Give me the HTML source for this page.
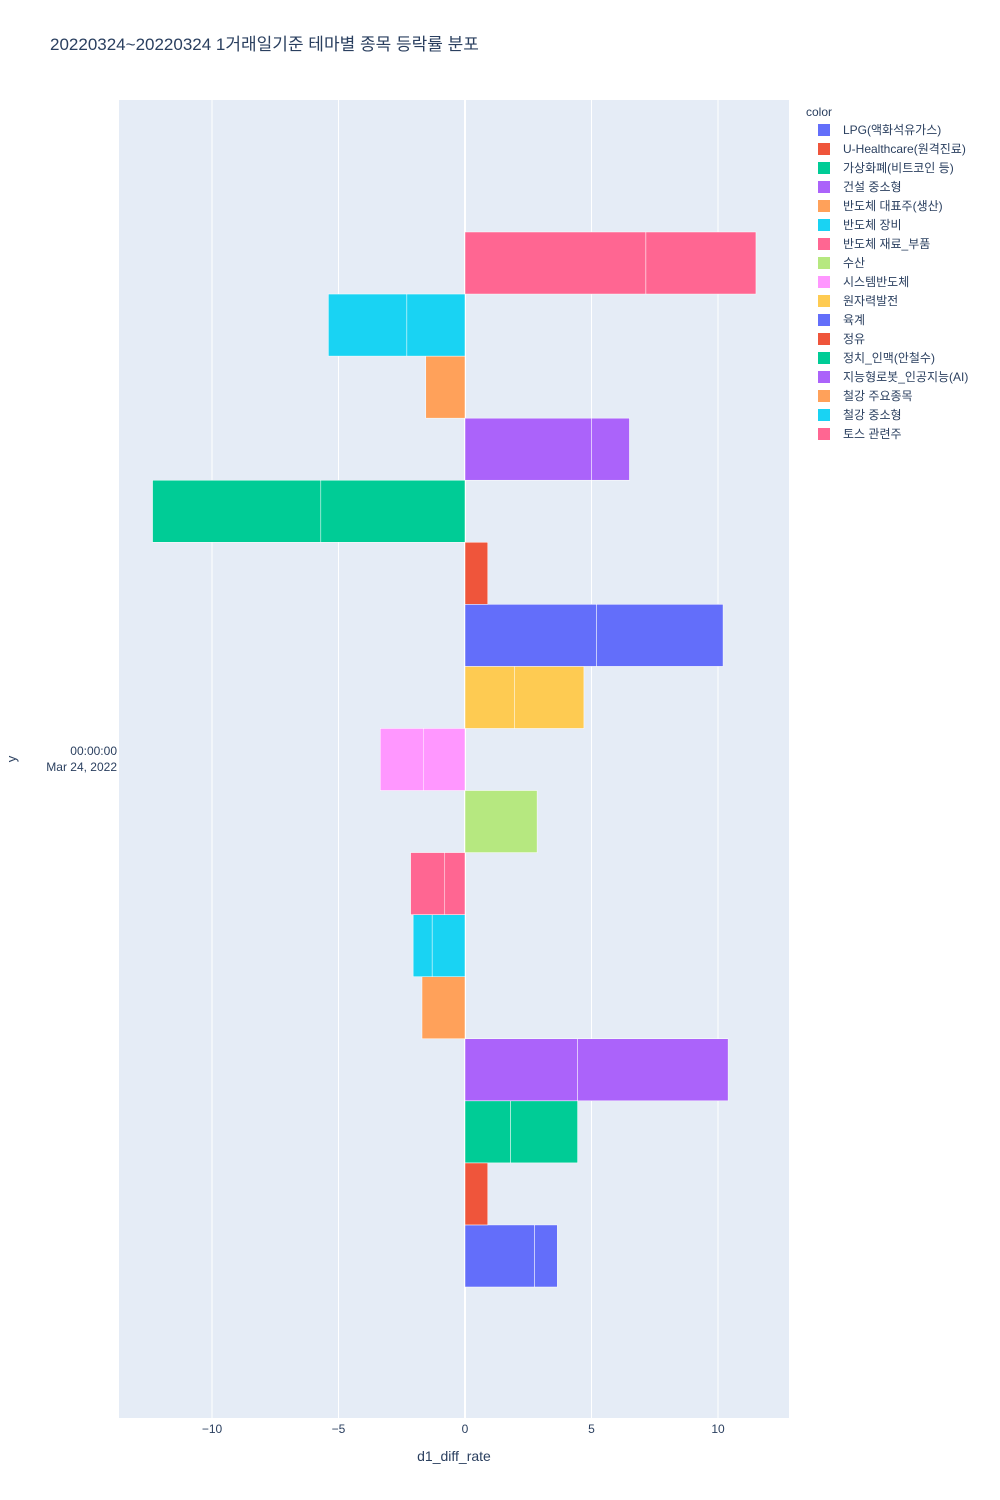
<!DOCTYPE html>
<html><head><meta charset="utf-8">
<style>
body{margin:0;background:#fff;}
svg{display:block;font-family:"Liberation Sans","Noto Sans CJK KR",sans-serif;}
</style></head>
<body>
<svg id="chart" width="1000" height="1500" viewBox="0 0 1000 1500">
<text x="50" y="50" font-size="17" fill="#2a3f5f">20220324~20220324 1거래일기준 테마별 종목 등락률 분포</text>
<rect x="119" y="100" width="670" height="1318" fill="#e5ecf6"/>
<g id="grid"></g>
<g id="bars"></g>
<g id="ticks"></g>
<text x="117" y="755" font-size="12" fill="#2a3f5f" text-anchor="end">00:00:00</text>
<text x="117" y="771" font-size="12" fill="#2a3f5f" text-anchor="end">Mar 24, 2022</text>
<text x="16" y="759" font-size="13" fill="#2a3f5f" text-anchor="middle" transform="rotate(-90 16 759)">y</text>
<text x="454" y="1461" font-size="14" fill="#2a3f5f" text-anchor="middle">d1_diff_rate</text>
<text x="806" y="116" font-size="12" fill="#2a3f5f">color</text>
<g id="legend"></g>
</svg>
<script>
const categories = ["LPG(액화석유가스)","U-Healthcare(원격진료)","가상화폐(비트코인 등)","건설 중소형","반도체 대표주(생산)","반도체 장비","반도체 재료_부품","수산","시스템반도체","원자력발전","육계","정유","정치_인맥(안철수)","지능형로봇_인공지능(AI)","철강 주요종목","철강 중소형","토스 관련주"];
const segmentA = [2.75,0.9,1.8,4.45,-1.7,-1.3,-0.8,2.85,-1.65,1.95,5.2,0.9,-5.7,5.0,-1.55,-2.3,7.15];
const segmentB = [0.9,0,2.65,5.95,0,-0.75,-1.35,0,-1.7,2.75,5.0,0,-6.65,1.5,0,-3.1,4.35];
const xTicks = [-10,-5,0,5,10];
const colors = ["#636efa","#EF553B","#00cc96","#ab63fa","#FFA15A","#19d3f3","#FF6692","#B6E880","#FF97FF","#FECB52"];

const NS="http://www.w3.org/2000/svg";
const X0=465, XS=25.3;
const xPos=v=>X0+v*XS;
const slotH=62.06, bottom=1287;
function mk(tag,attrs,parent){const e=document.createElementNS(NS,tag);for(const k in attrs)e.setAttribute(k,attrs[k]);parent.appendChild(e);return e;}
const grid=document.getElementById('grid'), bars=document.getElementById('bars'), ticks=document.getElementById('ticks'), legend=document.getElementById('legend');
xTicks.forEach(t=>{
  const l=mk('line',{x1:xPos(t),x2:xPos(t),y1:100,y2:1418,stroke:'#fff','stroke-width':t===0?2:1},grid);
  
  
  const tx=mk('text',{x:xPos(t),y:1433,'font-size':12,fill:'#2a3f5f','text-anchor':'middle'},ticks);
  tx.textContent=t<0?'\u2212'+Math.abs(t):String(t);
  
  
});
categories.forEach((c,i)=>{
  const col=colors[i%colors.length];
  const y=bottom-(i+1)*slotH;
  const segs=[[0,segmentA[i]],[segmentA[i],segmentA[i]+segmentB[i]]];
  segs.forEach(([a,b],j)=>{
    if(a===b)return;
    const x1=Math.min(xPos(a),xPos(b)), w=Math.abs(xPos(b)-xPos(a));
    const r=mk('rect',{x:x1,y:y,width:w,height:slotH,fill:col,stroke:'#fff','stroke-width':0.5},bars);
    
    
  });
  const ly=130+i*19;
  const g=mk('g',{},legend);
  
  
  mk('rect',{x:818,y:ly-6,width:12,height:12,fill:col},g);
  const t=mk('text',{x:843,y:ly+4,'font-size':12,fill:'#2a3f5f'},g);
  t.textContent=c;
});
</script>
</body></html>
